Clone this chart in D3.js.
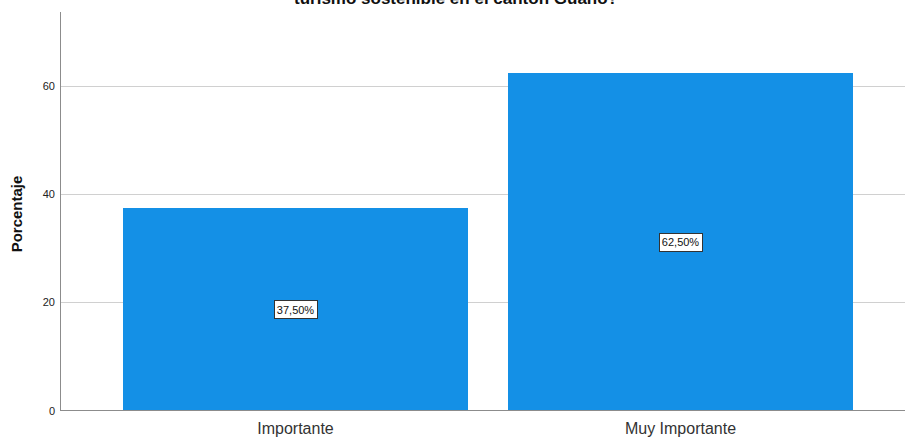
<!doctype html>
<html>
<head>
    <meta charset="utf-8">
    <title>Porcentaje</title>
    <style>
        html, body { margin: 0; padding: 0; overflow: hidden; background: #FFFFFF; }
        svg { display: block; }
        text { font-family: "Liberation Sans", Arial, sans-serif; }
        .grid line { stroke: #D0D0D0; stroke-width: 1; shape-rendering: crispEdges; }
        .axis-line { stroke: #8C8C8C; stroke-width: 1; shape-rendering: crispEdges; }
        rect.bar { fill: #1490E6; shape-rendering: crispEdges; }
        rect.label-box { fill: #FFFFFF; stroke: #333333; stroke-width: 1; shape-rendering: crispEdges; }
    </style>
</head>
<body>
    <div id="chart"></div>

    <script src="https://cdn.jsdelivr.net/npm/d3@7"></script>
    <script>
        var categories = ['Importante', 'Muy Importante'];
        var percentages = [37.5, 62.5];
        var value_labels = ['37,50%', '62,50%'];
        var y_ticks = [0, 20, 40, 60];
        var title_text = 'turismo sostenible en el cantón Guano?';
        var y_title = 'Porcentaje';

        var svg_width = 905;
        var svg_height = 439;

        var plot_left = 60.5;
        var plot_right = 905;
        var plot_top = 12;
        var plot_bottom = 410.5;

        var svg = d3.select('#chart').append('svg')
            .attr('width', svg_width)
            .attr('height', svg_height);

        var y = d3.scaleLinear()
            .domain([0, 73.7])
            .range([plot_bottom, plot_top]);

        var x = d3.scaleBand()
            .domain(categories)
            .range([103, 873])
            .paddingInner(0.104)
            .paddingOuter(0.052);

        // grid lines
        svg.append('g')
            .attr('class', 'grid')
            .selectAll('line')
            .data(y_ticks.filter(function(d) { return d > 0; }))
          .enter().append('line')
            .attr('x1', plot_left)
            .attr('x2', plot_right)
            .attr('y1', function(d) { return Math.round(y(d)) + 0.5; })
            .attr('y2', function(d) { return Math.round(y(d)) + 0.5; });

        // y tick labels
        svg.append('g')
            .selectAll('text')
            .data(y_ticks)
          .enter().append('text')
            .attr('x', 55)
            .attr('y', function(d) { return y(d) + 4; })
            .attr('text-anchor', 'end')
            .attr('font-size', 11)
            .attr('fill', '#222222')
            .text(function(d) { return d; });

        // bars
        svg.append('g')
            .selectAll('rect')
            .data(percentages)
          .enter().append('rect')
            .attr('class', 'bar')
            .attr('x', function(d, i) { return x(categories[i]); })
            .attr('width', x.bandwidth())
            .attr('y', function(d) { return y(d); })
            .attr('height', function(d) { return y(0) - y(d); });

        // axes lines
        svg.append('line')
            .attr('class', 'axis-line')
            .attr('x1', plot_left).attr('x2', plot_left)
            .attr('y1', plot_top).attr('y2', plot_bottom);
        svg.append('line')
            .attr('class', 'axis-line')
            .attr('x1', plot_left).attr('x2', plot_right)
            .attr('y1', plot_bottom).attr('y2', plot_bottom);

        // value labels
        var labels = svg.append('g')
            .selectAll('g')
            .data(percentages)
          .enter().append('g')
            .attr('transform', function(d, i) {
                var cx = x(categories[i]) + x.bandwidth() / 2;
                var cy = y(d / 2);
                return 'translate(' + cx + ',' + cy + ')';
            });

        labels.append('rect')
            .attr('class', 'label-box')
            .attr('x', -21.5)
            .attr('y', -8.5)
            .attr('width', 43)
            .attr('height', 18);

        labels.append('text')
            .attr('text-anchor', 'middle')
            .attr('y', 4.5)
            .attr('font-size', 11)
            .attr('fill', '#111111')
            .text(function(d, i) { return value_labels[i]; });

        // category labels
        svg.append('g')
            .selectAll('text')
            .data(categories)
          .enter().append('text')
            .attr('x', function(d) { return x(d) + x.bandwidth() / 2; })
            .attr('y', 434)
            .attr('text-anchor', 'middle')
            .attr('font-size', 16)
            .attr('fill', '#333333')
            .text(function(d) { return d; });

        // y axis title
        svg.append('text')
            .attr('transform', 'translate(22,214) rotate(-90)')
            .attr('text-anchor', 'middle')
            .attr('font-size', 15)
            .attr('font-weight', 'bold')
            .attr('fill', '#111111')
            .text(y_title);

        // title (cut off at the top, as in the source picture)
        svg.append('text')
            .attr('x', 456)
            .attr('y', 4)
            .attr('text-anchor', 'middle')
            .attr('font-size', 17)
            .attr('font-weight', 'bold')
            .attr('fill', '#111111')
            .text(title_text);
    </script>
</body>
</html>
